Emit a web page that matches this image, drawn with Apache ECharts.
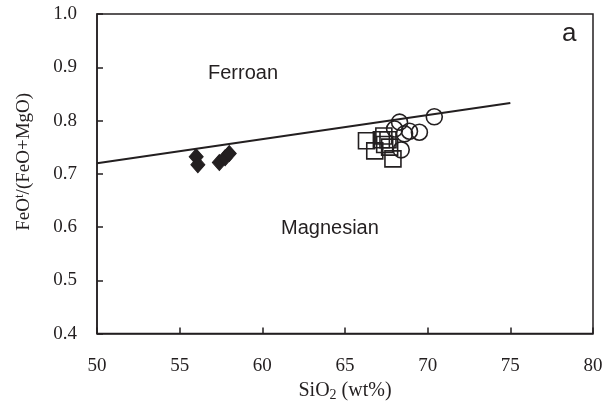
<!DOCTYPE html>
<html>
<head>
<meta charset="utf-8">
<script src="https://cdn.jsdelivr.net/npm/echarts@6/dist/echarts.min.js"></script>
<style>
  html, body { margin: 0; padding: 0; background: #fff; }
  #chart { width: 614px; height: 407px; }
</style>
</head>
<body>
<div id="chart"></div>
<script>
// Ferroan / magnesian boundary line (SiO2, FeOt/(FeOt+MgO))
const boundarySiO2 = [50, 75];
const boundaryRatio = [0.72, 0.833];

// Diamonds: intermediate samples
const diamondSiO2  = [56.0, 56.1, 57.4, 57.75, 58.0];
const diamondRatio = [0.732, 0.717, 0.721, 0.730, 0.738];

// Open squares
const squareSiO2  = [66.3, 66.8, 67.2, 67.4, 67.6, 67.35, 67.9, 67.7];
const squareRatio = [0.762, 0.743, 0.764, 0.755, 0.764, 0.771, 0.728, 0.750];

// Open circles
const circleSiO2  = [70.4, 68.3, 68.0, 68.9, 69.5, 68.4, 68.6];
const circleRatio = [0.807, 0.797, 0.784, 0.780, 0.778, 0.745, 0.775];

const xTicks = [50, 55, 60, 65, 70, 75, 80];
const yTicks = [0.4, 0.5, 0.6, 0.7, 0.8, 0.9, 1.0];

const ink = '#231f20';
const pairs = (xs, ys) => xs.map((x, i) => [x, ys[i]]);

const chart = echarts.init(document.getElementById('chart'));
chart.setOption({
  animation: false,
  backgroundColor: '#fff',
  grid: { left: 97, right: 21, top: 14, bottom: 73, show: true, borderColor: ink, borderWidth: 1.5 },
  xAxis: {
    type: 'value', min: xTicks[0], max: xTicks[xTicks.length - 1], interval: 5,
    name: 'SiO{sub|2} (wt%)', nameLocation: 'middle', nameGap: 38,
    nameTextStyle: {
      fontFamily: 'Liberation Serif', fontSize: 20, color: ink,
      rich: { sub: { fontFamily: 'Liberation Serif', fontSize: 14, color: ink, padding: [9, 0, 0, 0] } }
    },
    axisLine: { show: true, lineStyle: { color: ink, width: 1.5 } },
    axisTick: { show: true, inside: true, length: 6, lineStyle: { color: ink, width: 1.5 } },
    axisLabel: { fontFamily: 'Liberation Serif', fontSize: 19, color: ink, margin: 23,
      formatter: v => String(v) },
    splitLine: { show: false }
  },
  yAxis: {
    type: 'value', min: yTicks[0], max: yTicks[yTicks.length - 1], interval: 0.1,
    name: 'FeO{sup|t}/(FeO+MgO)', nameLocation: 'middle', nameGap: 62, nameRotate: 90,
    nameTextStyle: {
      fontFamily: 'Liberation Serif', fontSize: 19, color: ink, padding: [0, 0, 0, 24],
      rich: { sup: { fontFamily: 'Liberation Serif', fontSize: 13, color: ink, padding: [0, 0, 9, 0] } }
    },
    axisLine: { show: true, lineStyle: { color: ink, width: 1.5 } },
    axisTick: { show: true, inside: true, length: 6, lineStyle: { color: ink, width: 1.5 } },
    axisLabel: { fontFamily: 'Liberation Serif', fontSize: 19, color: ink, margin: 20,
      formatter: v => v.toFixed(1) },
    splitLine: { show: false }
  },
  graphic: [
    { type: 'text', left: 208, top: 63, style: { text: 'Ferroan', font: '20px "Liberation Sans"', fill: ink } },
    { type: 'text', left: 281, top: 218, style: { text: 'Magnesian', font: '20px "Liberation Sans"', fill: ink } },
    { type: 'text', left: 562, top: 21, style: { text: 'a', font: '26px "Liberation Sans"', fill: ink } }
  ],
  series: [
    {
      type: 'line', data: pairs(boundarySiO2, boundaryRatio), symbol: 'none',
      lineStyle: { color: ink, width: 2 }, z: 1
    },
    {
      type: 'scatter', data: pairs(diamondSiO2, diamondRatio), symbol: 'diamond', symbolSize: [14, 16],
      itemStyle: { color: ink, borderColor: ink, borderWidth: 1, opacity: 1 }, z: 3
    },
    {
      type: 'scatter', data: pairs(squareSiO2, squareRatio), symbol: 'rect', symbolSize: 16,
      itemStyle: { color: 'rgba(0,0,0,0)', borderColor: ink, borderWidth: 1.6, opacity: 1 }, z: 3
    },
    {
      type: 'scatter', data: pairs(circleSiO2, circleRatio), symbol: 'circle', symbolSize: 16,
      itemStyle: { color: 'rgba(0,0,0,0)', borderColor: ink, borderWidth: 1.6, opacity: 1 }, z: 3
    }
  ]
});
</script>
</body>
</html>
